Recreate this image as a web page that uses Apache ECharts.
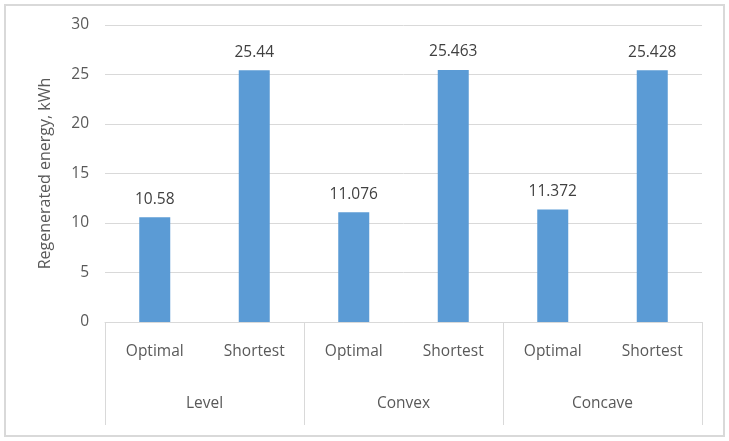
<!DOCTYPE html>
<html><head><meta charset="utf-8">
<script src="https://cdn.jsdelivr.net/npm/echarts@6/dist/echarts.min.js"></script>
<style>html,body{margin:0;padding:0;background:#fff}#c{width:729px;height:441px}</style>
</head><body><div id="c"></div>
<script>
var routes = ['Optimal','Shortest','Optimal','Shortest','Optimal','Shortest'];
var groups = ['Level','Convex','Concave'];
var energy = [10.58, 25.44, 11.076, 25.463, 11.372, 25.428];
var labels = ['10.58','25.44','11.076','25.463','11.372','25.428'];
var yTicks = [0,5,10,15,20,25,30];

var F = 'Open Sans';
var chart = echarts.init(document.getElementById('c'));
chart.setOption({
  animation:false,
  graphic:[{type:'rect',shape:{x:5,y:5,width:719,height:431},style:{fill:'none',stroke:'#d9d9d9',lineWidth:2}}],
  grid:{left:105,right:27,top:25,bottom:119},
  xAxis:[{
    type:'category',data:routes,position:'bottom',
    axisLine:{show:true,lineStyle:{color:'#d9d9d9',width:1}},
    axisTick:{show:false},
    axisLabel:{color:'#595959',fontFamily:F,fontSize:15.5,margin:22,interval:0}
  },{
    type:'category',data:groups,position:'bottom',
    axisLine:{show:false},
    axisTick:{show:true,length:103,lineStyle:{color:'#d9d9d9',width:1}},
    axisLabel:{color:'#595959',fontFamily:F,fontSize:15.5,margin:74,interval:0}
  }],
  yAxis:{
    type:'value',min:yTicks[0],max:yTicks[yTicks.length-1],interval:5,
    name:'Regenerated energy, kWh',nameLocation:'middle',nameGap:52,
    nameTextStyle:{color:'#595959',fontFamily:F,fontSize:16},
    axisLine:{show:false},axisTick:{show:false},
    axisLabel:{color:'#595959',fontFamily:F,fontSize:15.5,margin:16},
    splitLine:{lineStyle:{color:'#d9d9d9',width:1}}
  },
  series:[{
    type:'bar',xAxisIndex:0,data:energy,barWidth:31,
    itemStyle:{color:'#5b9bd5'},
    label:{show:true,position:'top',distance:10,color:'#404040',fontFamily:F,fontSize:15.5,
      formatter:function(p){return labels[p.dataIndex];}}
  }]
});
</script></body></html>
